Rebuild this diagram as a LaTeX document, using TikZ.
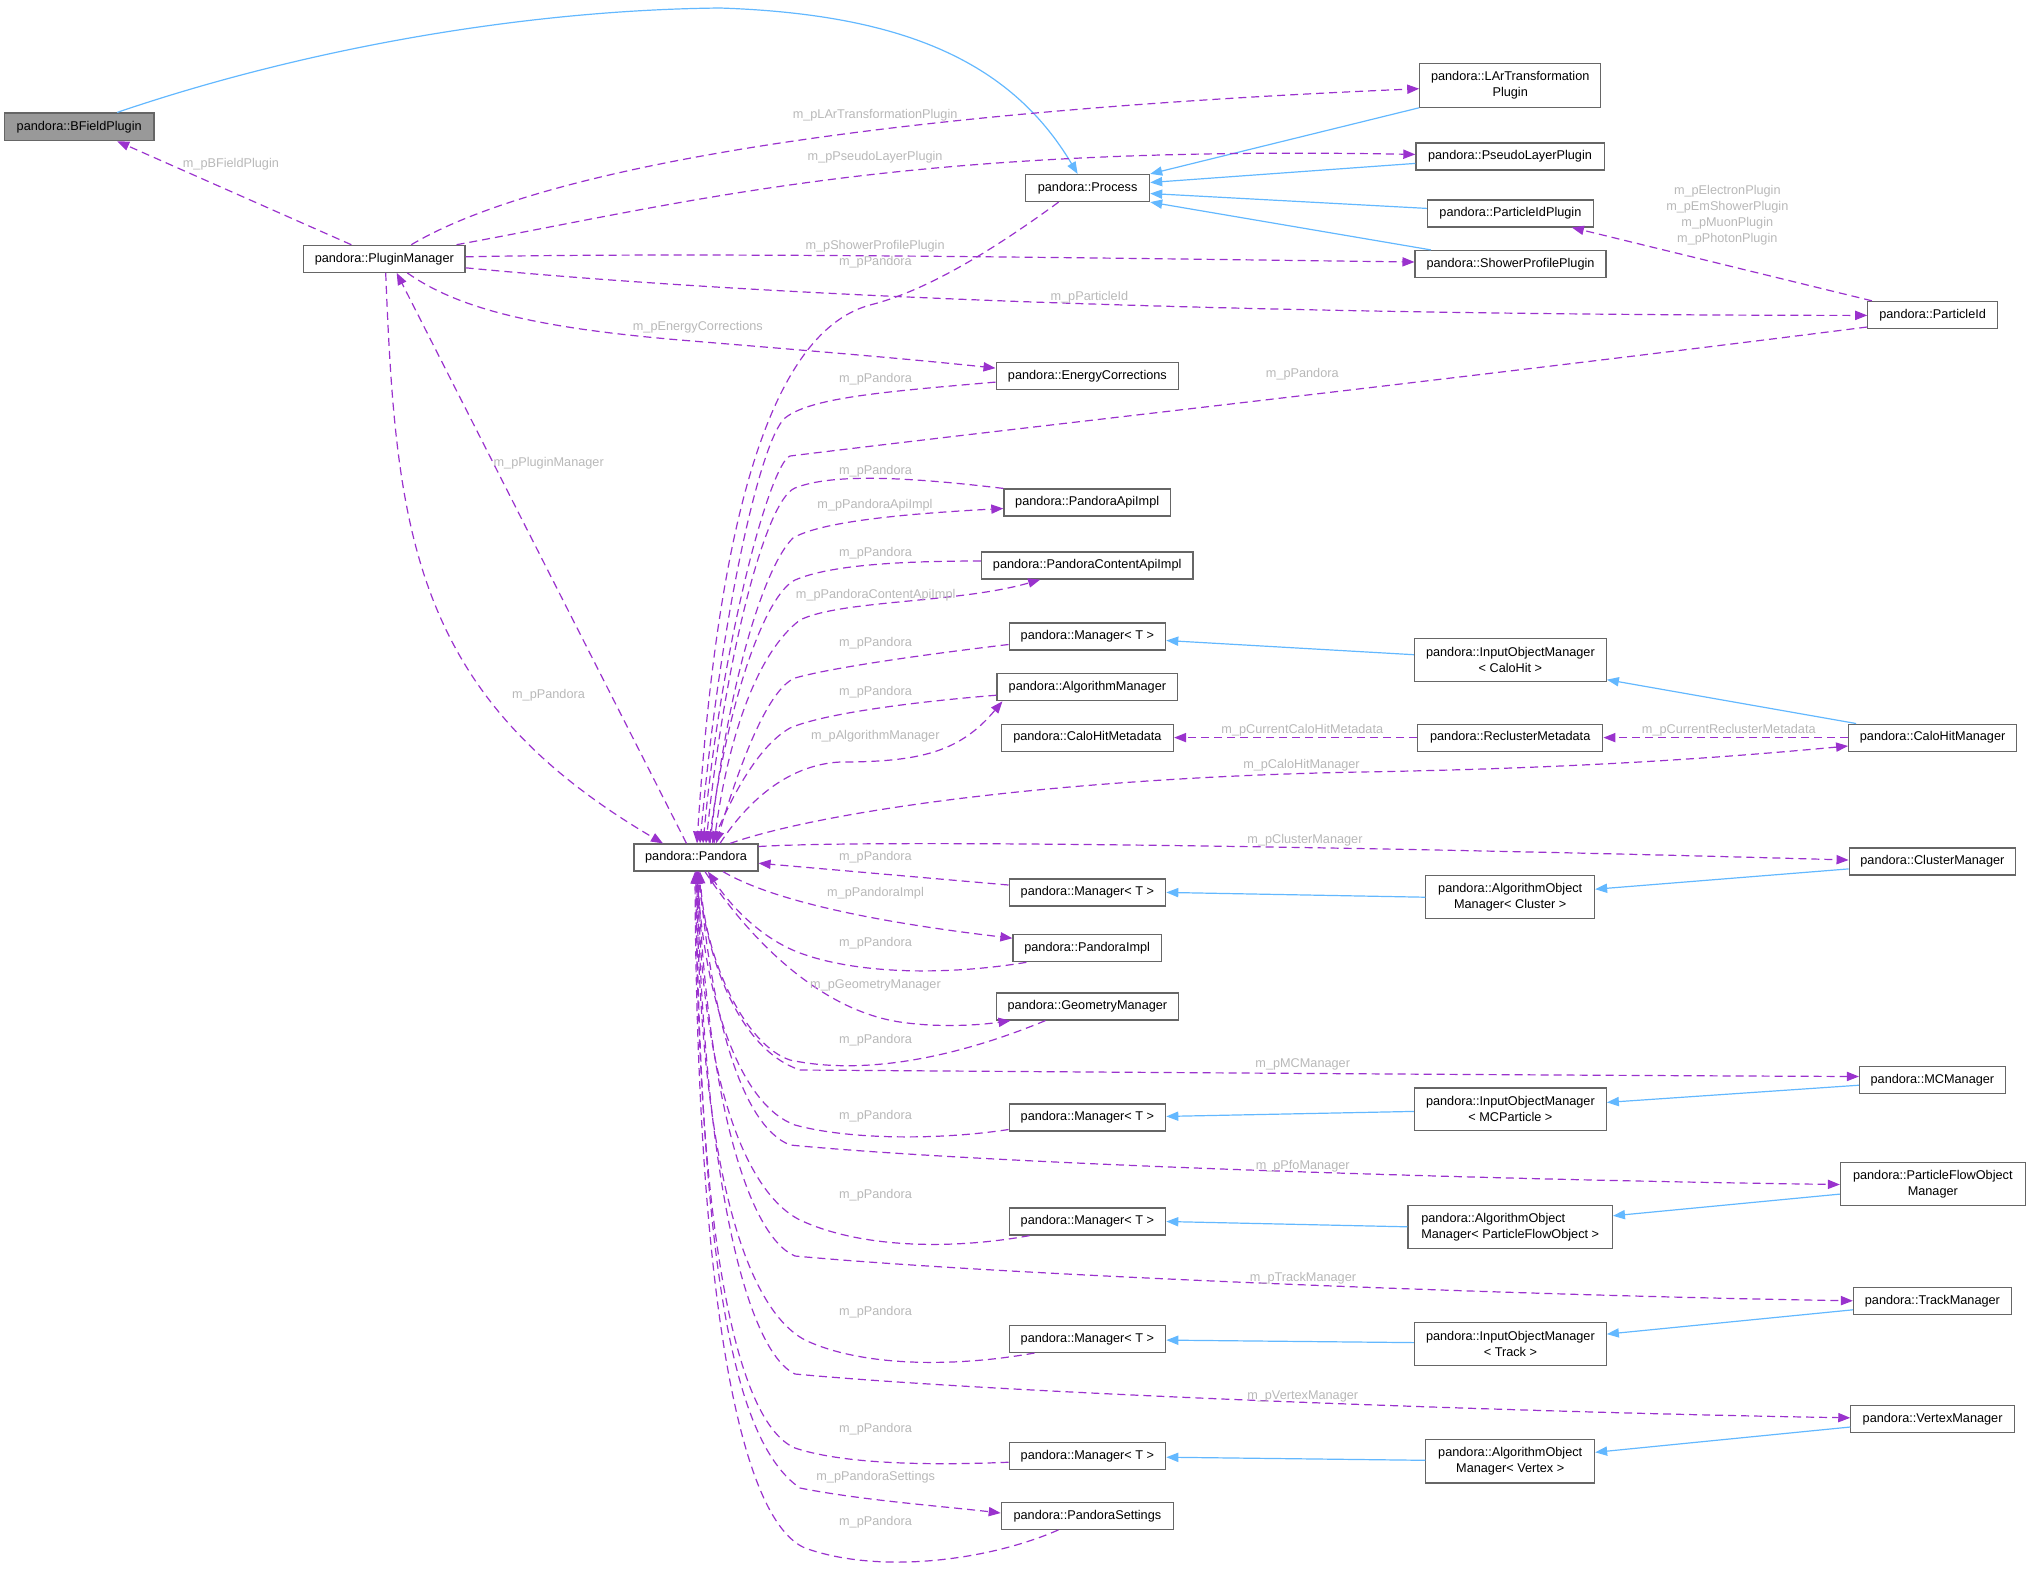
\documentclass[tikz,border=0pt]{standalone}
\usepackage{fontspec}
\usetikzlibrary{arrows.meta,calc}
\newfontfamily\lsans{Liberation Sans}
\newcommand\dxf{\lsans\fontsize{6.35pt}{8pt}\selectfont}
\definecolor{depc}{HTML}{9A32CD}
\definecolor{inhc}{HTML}{63B8FF}
\definecolor{lblc}{HTML}{B8B8B8}
\definecolor{boxc}{HTML}{666666}
\definecolor{bfill}{HTML}{999999}
\tikzset{
  box/.style={draw=boxc, fill=white, line width=0.6pt, inner sep=0pt, font=\dxf, align=center, text=black},
  sbox/.style={box, minimum height=13.5pt},
  dbox/.style={box, minimum height=21.6pt},
  lbl/.style={font=\dxf, text=lblc, inner sep=0pt, align=center},
  dep/.style={draw=depc, line width=0.6pt, dash pattern=on 4pt off 2.5pt, -{Triangle[length=6pt,width=4.6pt]}},
  inh/.style={draw=inhc, line width=0.6pt, -{Triangle[length=6pt,width=4.6pt]}}
}
\begin{document}
\begin{tikzpicture}[x=0.5pt,y=-0.5pt]
\path[use as bounding box] (0,0) rectangle (2030,1571);
% nodes
\node[sbox, minimum width=74.85pt, minimum height=13.8pt, fill=bfill] (bfield) at (79.2,126.8) {pandora::BFieldPlugin};
\node[sbox, minimum width=80.65pt] (pm) at (384.3,258.8) {pandora::PluginManager};
\node[sbox, minimum width=62pt] (process) at (1087.6,188) {pandora::Process};
\node[dbox, minimum width=90.4pt, minimum height=21.75pt] (lar) at (1510.2,85.4) {pandora::LArTransformation\\Plugin};
\node[sbox, minimum width=94.1pt] (pseudo) at (1510,156.4) {pandora::PseudoLayerPlugin};
\node[sbox, minimum width=82.85pt] (pidplugin) at (1510.4,213.4) {pandora::ParticleIdPlugin};
\node[sbox, minimum width=95.45pt] (shower) at (1510.5,264) {pandora::ShowerProfilePlugin};
\node[sbox, minimum width=64.8pt] (pid) at (1932.6,314.9) {pandora::ParticleId};
\node[sbox, minimum width=91.3pt] (energy) at (1087.4,376.1) {pandora::EnergyCorrections};
\node[sbox, minimum width=83.3pt] (apiimpl) at (1087.2,502.5) {pandora::PandoraApiImpl};
\node[sbox, minimum width=105.8pt] (contentapi) at (1087.2,565.5) {pandora::PandoraContentApiImpl};
\node[sbox, minimum width=78.3pt] (mgr1) at (1087.4,636.5) {pandora::Manager< T >};
\node[sbox, minimum width=90.4pt] (algmgr) at (1087.4,687.2) {pandora::AlgorithmManager};
\node[sbox, minimum width=86.1pt] (calometa) at (1087.4,737.6) {pandora::CaloHitMetadata};
\node[dbox, minimum width=95.85pt, minimum height=21.75pt] (iomcalo) at (1510.4,660) {pandora::InputObjectManager\\< CaloHit >};
\node[sbox, minimum width=92.6pt] (reclmeta) at (1510.2,737.6) {pandora::ReclusterMetadata};
\node[sbox, minimum width=83.9pt] (calomgr) at (1932.6,737.6) {pandora::CaloHitManager};
\node[sbox, minimum width=62pt] (pandora) at (696,857.5) {pandora::Pandora};
\node[sbox, minimum width=83.25pt] (clustermgr) at (1932.4,861.4) {pandora::ClusterManager};
\node[sbox, minimum width=78.3pt] (mgr2) at (1087.4,892.4) {pandora::Manager< T >};
\node[dbox, minimum width=84.35pt] (aomcluster) at (1510.2,897.2) {pandora::AlgorithmObject\\Manager< Cluster >};
\node[sbox, minimum width=74.2pt] (pandoraimpl) at (1087.2,948.2) {pandora::PandoraImpl};
\node[sbox, minimum width=91.3pt] (geommgr) at (1087.4,1006.5) {pandora::GeometryManager};
\node[sbox, minimum width=72.85pt] (mcmgr) at (1932.4,1080.2) {pandora::MCManager};
\node[sbox, minimum width=78.3pt] (mgr3) at (1087.4,1117.4) {pandora::Manager< T >};
\node[dbox, minimum width=95.85pt, minimum height=21.4pt] (iommc) at (1510.4,1109.4) {pandora::InputObjectManager\\< MCParticle >};
\node[dbox, minimum width=92.35pt] (pfomgr) at (1932.8,1184.1) {pandora::ParticleFlowObject\\Manager};
\node[sbox, minimum width=78.3pt] (mgr4) at (1087.4,1221.5) {pandora::Manager< T >};
\node[dbox, minimum width=102.15pt, minimum height=21.4pt, align=left] (aompfo) at (1510.2,1226.8) {pandora::AlgorithmObject\\Manager< ParticleFlowObject >};
\node[sbox, minimum width=78.9pt] (trackmgr) at (1932.4,1301.3) {pandora::TrackManager};
\node[sbox, minimum width=78.3pt] (mgr5) at (1087.4,1338.9) {pandora::Manager< T >};
\node[dbox, minimum width=95.85pt, minimum height=21.4pt] (iomtrack) at (1510.4,1344.1) {pandora::InputObjectManager\\< Track >};
\node[sbox, minimum width=81.75pt] (vertexmgr) at (1932.6,1419) {pandora::VertexManager};
\node[sbox, minimum width=78.3pt] (mgr6) at (1087.4,1456.2) {pandora::Manager< T >};
\node[dbox, minimum width=84.35pt] (aomvertex) at (1510.2,1461.3) {pandora::AlgorithmObject\\Manager< Vertex >};
\node[sbox, minimum width=86.1pt] (settings) at (1087.4,1515.8) {pandora::PandoraSettings};
% inheritance
\draw[inh] ($(bfield.north)+(38,0)$) .. controls (300,50) and (520,10) .. (720,8) .. controls (900,14) and (1010,60) .. ($(process.north)+(-10,0)$);
\draw[inh] (lar.south west) -- (process.north east);
\draw[inh] ($(pseudo.west)+(0,7)$) -- ($(process.east)+(0,-5.5)$);
\draw[inh] ($(pidplugin.west)+(0,-5)$) -- ($(process.east)+(0,5.5)$);
\draw[inh] ($(shower.north west)+(16.5,0)$) -- (process.south east);
\draw[inh] ($(iomcalo.west)+(0,-5.3)$) -- ($(mgr1.east)+(0,4)$);
\draw[inh] ($(calomgr.north west)+(8,0)$) -- ($(iomcalo.south east)+(0,-2.7)$);
\draw[inh] (aomcluster.west) -- (mgr2.east);
\draw[inh] ($(clustermgr.west)+(0,7.5)$) -- ($(aomcluster.east)+(0,-8)$);
\draw[inh] ($(iommc.west)+(0,2)$) -- ($(mgr3.east)+(0,-1)$);
\draw[inh] ($(mcmgr.west)+(0,5)$) -- ($(iommc.east)+(0,-7)$);
\draw[inh] (aompfo.west) -- (mgr4.east);
\draw[inh] ($(pfomgr.west)+(0,10)$) -- ($(aompfo.east)+(0,-11)$);
\draw[inh] ($(iomtrack.west)+(0,-1.5)$) -- ($(mgr5.east)+(0,1.2)$);
\draw[inh] ($(trackmgr.west)+(0,8.5)$) -- ($(iomtrack.east)+(0,-10)$);
\draw[inh] ($(aomvertex.west)+(0,-1)$) -- ($(mgr6.east)+(0,1)$);
\draw[inh] ($(vertexmgr.west)+(0,8)$) -- ($(aomvertex.east)+(0,-9)$);
% plugin manager dependencies
\draw[dep] ($(pm.north)+(-33,0)$) -- ($(bfield.south)+(38,0)$);
\draw[dep] ($(pm.north)+(27,0)$) .. controls (520,180) and (800,115) .. ($(lar.west)+(0,3.3)$);
\draw[dep] ($(pm.north east)+(-9,0)$) .. controls (700,200) and (900,145) .. ($(pseudo.west)+(0,-2)$);
\draw[dep] ($(pm.east)+(0,-2)$) .. controls (700,252) and (1100,258) .. ($(shower.west)+(0,-2)$);
\draw[dep] ($(pm.east)+(0,9)$) .. controls (800,300) and (1300,315) .. ($(pid.west)+(0,0.5)$);
\draw[dep] ($(pm.south)+(23,0)$) .. controls (460,310) and (540,328) .. (680,340) .. controls (800,350) and (900,358) .. ($(energy.west)+(0,-8)$);
\draw[dep] ($(pm.south)+(1.4,0)$) .. controls (396,532) and (412,696) .. ($(pandora.north)+(-33,0)$);
\draw[dep] ($(pandora.north)+(-9.5,0)$) -- ($(pm.south)+(12.4,0)$);
% into pandora top
\draw[dep] ($(process.south)+(-29,0)$) .. controls (1000,245) and (930,290) .. (870,305) .. controls (760,335) and (715,560) .. ($(pandora.north)+(1,0)$);
\draw[dep] ($(energy.west)+(0,6)$) .. controls (880,392) and (810,398) .. (785,418) .. controls (760,440) and (720,620) .. ($(pandora.north)+(4,0)$);
\draw[dep] ($(pid.south west)+(0,-2)$) .. controls (1450,380) and (1000,430) .. (790,456) .. controls (770,464) and (722,640) .. ($(pandora.north)+(7,0)$);
\draw[dep] (apiimpl.north west) .. controls (900,476) and (830,474) .. (795,488) .. controls (765,500) and (725,660) .. ($(pandora.north)+(10,0)$);
\draw[dep] ($(pandora.north)+(14,0)$) .. controls (728,680) and (765,565) .. (793,538) .. controls (820,522) and (900,514) .. ($(apiimpl.west)+(0,6)$);
\draw[dep] ($(contentapi.west)+(0,-4.5)$) .. controls (900,561) and (830,565) .. (795,580) .. controls (765,595) and (728,700) .. ($(pandora.north)+(13,0)$);
\draw[dep] ($(pandora.north)+(18,0)$) .. controls (728,730) and (760,650) .. (800,620) .. controls (840,600) and (960,603) .. ($(contentapi.south)+(-47,0)$);
\draw[dep] ($(mgr1.west)+(0,8)$) .. controls (920,655) and (830,668) .. (795,678) .. controls (765,690) and (735,780) .. ($(pandora.north)+(20,0)$);
\draw[dep] ($(algmgr.west)+(0,8)$) .. controls (900,703) and (820,715) .. (790,728) .. controls (760,745) and (735,790) .. ($(pandora.north)+(16,0)$);
\draw[dep] ($(pandora.north)+(24,0)$) .. controls (745,805) and (785,765) .. (840,762) .. controls (920,762) and (960,752) .. ($(algmgr.south west)+(6,0)$);
\draw[dep] ($(pandora.north)+(34,0)$) .. controls (820,812) and (1050,778) .. (1360,772) .. controls (1600,768) and (1750,755) .. ($(calomgr.west)+(0,8.4)$);
\draw[dep] ($(pandora.east)+(0,-11)$) .. controls (900,838) and (1500,850) .. ($(clustermgr.west)+(0,-1.4)$);
\draw[dep] ($(mgr2.west)+(0,-7.4)$) -- ($(pandora.east)+(0,5.7)$);
% from / to pandora bottom
\draw[dep] ($(pandora.south)+(27,0)$) .. controls (780,905) and (900,925) .. ($(pandoraimpl.west)+(0,-10)$);
\draw[dep] ($(pandoraimpl.south west)+(14,0)$) .. controls (950,975) and (860,975) .. (800,953) .. controls (760,938) and (730,905) .. ($(pandora.south)+(12,0)$);
\draw[dep] ($(pandora.south)+(9,0)$) .. controls (750,940) and (820,1010) .. (900,1022) .. controls (940,1028) and (980,1025) .. ($(geommgr.south west)+(15,0)$);
\draw[dep] ($(geommgr.south)+(-42,0)$) .. controls (950,1060) and (860,1075) .. (790,1060) .. controls (745,1045) and (705,960) .. ($(pandora.south)+(4,0)$);
\draw[dep] ($(pandora.south)+(2,0)$) .. controls (705,960) and (740,1050) .. (800,1070) .. controls (1100,1072) and (1500,1075) .. ($(mcmgr.west)+(0,-3.7)$);
\draw[dep] ($(mgr3.south west)+(0,-2)$) .. controls (940,1140) and (850,1140) .. (795,1125) .. controls (740,1105) and (705,1000) .. ($(pandora.south)+(1,0)$);
\draw[dep] ($(pandora.south)+(3,0)$) .. controls (710,1010) and (740,1125) .. (790,1145) .. controls (1000,1165) and (1500,1180) .. ($(pfomgr.west)+(0,0.4)$);
\draw[dep] ($(mgr4.south west)+(21,0)$) .. controls (950,1250) and (860,1248) .. (800,1220) .. controls (740,1190) and (700,1060) .. ($(pandora.south)+(2,0)$);
\draw[dep] ($(pandora.south)+(2,0)$) .. controls (705,1080) and (745,1235) .. (795,1256) .. controls (1000,1275) and (1500,1295) .. ($(trackmgr.west)+(0,-0.5)$);
\draw[dep] ($(mgr5.south west)+(26,0)$) .. controls (950,1368) and (860,1366) .. (805,1340) .. controls (730,1300) and (698,1100) .. ($(pandora.south)+(1,0)$);
\draw[dep] ($(pandora.south)+(1,0)$) .. controls (703,1170) and (745,1350) .. (795,1374) .. controls (1000,1393) and (1500,1412) .. ($(vertexmgr.west)+(0,-1.2)$);
\draw[dep] ($(mgr6.west)+(0,6)$) .. controls (920,1466) and (840,1463) .. (795,1448) .. controls (730,1420) and (697,1200) .. (pandora.south);
\draw[dep] (pandora.south) .. controls (700,1250) and (730,1440) .. (800,1488) .. controls (860,1500) and (940,1506) .. ($(settings.west)+(0,-2.8)$);
\draw[dep] ($(settings.south)+(-29,0)$) .. controls (990,1560) and (880,1575) .. (805,1548) .. controls (740,1520) and (697,1300) .. ($(pandora.south)+(-1,0)$);
% other dependencies
\draw[dep] ($(pid.north west)+(4.7,0)$) -- ($(pidplugin.south east)+(-22,0)$);
\draw[dep] (reclmeta.west) -- (calometa.east);
\draw[dep] (calomgr.west) -- (reclmeta.east);
% labels
\node[lbl] (l1) at (230.9,164) {m\_pBFieldPlugin};
\node[lbl] (l2) at (875.1,115.5) {m\_pLArTransformationPlugin};
\node[lbl] (l3) at (875.1,157.3) {m\_pPseudoLayerPlugin};
\node[lbl] (l4) at (875.1,246) {m\_pShowerProfilePlugin};
\node[lbl] (l5) at (875.4,261.8) {m\_pPandora};
\node[lbl] (l6) at (1089.4,297.3) {m\_pParticleId};
\node[lbl] (l7) at (697.8,327.5) {m\_pEnergyCorrections};
\node[lbl] (l8) at (875.5,379.3) {m\_pPandora};
\node[lbl] (l9) at (1302.3,374) {m\_pPandora};
\node[lbl] (l10) at (875.5,471.5) {m\_pPandora};
\node[lbl] (l11) at (875,505.4) {m\_pPandoraApiImpl};
\node[lbl] (l12) at (875.5,553.2) {m\_pPandora};
\node[lbl] (l13) at (875.7,594.9) {m\_pPandoraContentApiImpl};
\node[lbl] (l14) at (875.5,643.5) {m\_pPandora};
\node[lbl] (l15) at (875.5,692.5) {m\_pPandora};
\node[lbl] (l16) at (875.3,735.7) {m\_pAlgorithmManager};
\node[lbl] (l17) at (1302.3,729.7) {m\_pCurrentCaloHitMetadata};
\node[lbl] (l18) at (1728.8,729.7) {m\_pCurrentReclusterMetadata};
\node[lbl] (l19) at (1301.5,765.5) {m\_pCaloHitManager};
\node[lbl] (l20) at (1305,839.8) {m\_pClusterManager};
\node[lbl] (l21) at (875.4,857.5) {m\_pPandora};
\node[lbl] (l22) at (875.5,892.7) {m\_pPandoraImpl};
\node[lbl] (l23) at (875.5,943.5) {m\_pPandora};
\node[lbl] (l24) at (875.5,985.6) {m\_pGeometryManager};
\node[lbl] (l25) at (875.5,1040) {m\_pPandora};
\node[lbl] (l26) at (1302.7,1064.3) {m\_pMCManager};
\node[lbl] (l27) at (875.5,1116) {m\_pPandora};
\node[lbl] (l28) at (1302.7,1166) {m\_pPfoManager};
\node[lbl] (l29) at (875.5,1195.6) {m\_pPandora};
\node[lbl] (l30) at (1303,1278) {m\_pTrackManager};
\node[lbl] (l31) at (875.5,1312.6) {m\_pPandora};
\node[lbl] (l32) at (1302.7,1396.9) {m\_pVertexManager};
\node[lbl] (l33) at (875.5,1429.4) {m\_pPandora};
\node[lbl] (l34) at (875.7,1476.8) {m\_pPandoraSettings};
\node[lbl] (l35) at (875.5,1522) {m\_pPandora};
\node[lbl] (l36) at (548.7,463.6) {m\_pPluginManager};
\node[lbl] (l37) at (548.5,695.5) {m\_pPandora};
\node[lbl] (l38) at (1727.3,215.6) {m\_pElectronPlugin\\m\_pEmShowerPlugin\\m\_pMuonPlugin\\m\_pPhotonPlugin};
\end{tikzpicture}
\end{document}
